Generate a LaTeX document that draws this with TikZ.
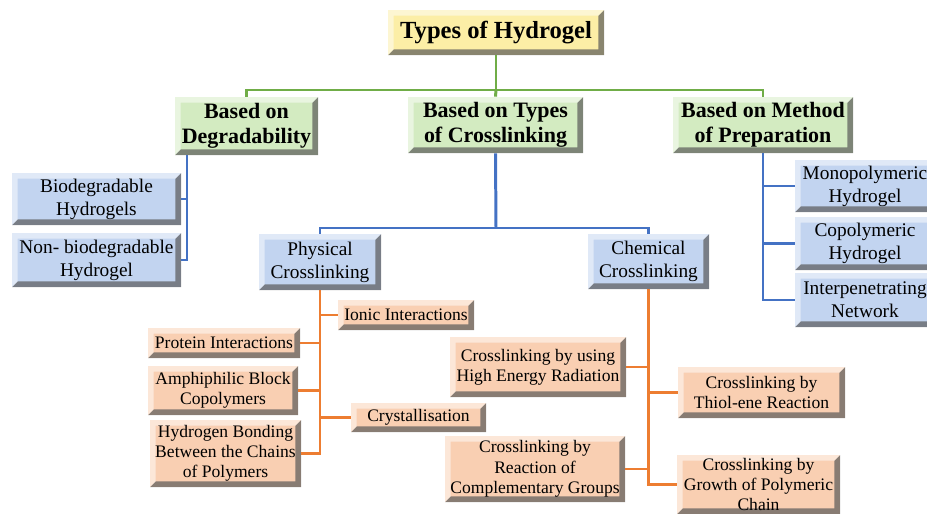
\documentclass[tikz,border=0pt]{standalone}
\usepackage{fontspec}
\setmainfont{Liberation Serif}
\usetikzlibrary{calc}

\definecolor{headfill}{HTML}{FCEEA6}
\definecolor{groupfill}{HTML}{D3EBC1}
\definecolor{kindfill}{HTML}{C2D4F0}
\definecolor{itemfill}{HTML}{F9CFB2}
\definecolor{greenline}{HTML}{70AD47}
\definecolor{blueline}{HTML}{4472C4}
\definecolor{orangeline}{HTML}{ED7D31}

\begin{document}
\begin{tikzpicture}[x=0.02cm, y=-0.02cm,
    box/.style={align=center, inner sep=0pt, path picture={
        \coordinate (bsw) at (path picture bounding box.south west);
        \coordinate (bne) at (path picture bounding box.north east);
        \coordinate (bse) at (path picture bounding box.south east);
        \coordinate (bnw) at (path picture bounding box.north west);
        \fill[black!65, opacity=.7] (bsw) -- (bse) -- (bne) -- ([shift={(-3.2pt,-3.2pt)}]bne)
            -- ([shift={(-3.2pt,3.2pt)}]bse) -- ([shift={(3.2pt,3.2pt)}]bsw) -- cycle;
        \fill[white, opacity=.5] (bsw) -- (bnw) -- (bne) -- ([shift={(-3.2pt,-3.2pt)}]bne)
            -- ([shift={(3.2pt,-3.2pt)}]bnw) -- ([shift={(3.2pt,3.2pt)}]bsw) -- cycle;
    }},
    boxsize/.style 2 args={minimum width=#1*0.02cm, minimum height=#2*0.02cm},
    head/.style={box, fill=headfill, font=\fontsize{14}{16}\selectfont\bfseries},
    group/.style={box, fill=groupfill, font=\fontsize{12.5}{14}\selectfont\bfseries},
    kind/.style={box, fill=kindfill, font=\fontsize{11}{13}\selectfont},
    item/.style={box, fill=itemfill, font=\fontsize{10}{11.5}\selectfont},
    gline/.style={greenline, line width=1.7pt},
    bline/.style={blueline, line width=1.7pt},
    oline/.style={orangeline, line width=1.7pt}]

    \clip (0,0) rectangle (927,514);

    \node[head, boxsize={216}{45}] (title) at (496,32.5) {Types of Hydrogel};

    \node[group, boxsize={143}{58}] (deg) at (246.5,126) {Based on\\Degradability};
    \node[group, boxsize={175}{56}] (cross) at (495.5,125) {Based on Types\\of Crosslinking};
    \node[group, boxsize={180}{56}] (prep) at (763,125) {Based on Method\\of Preparation};

    \node[kind, boxsize={169}{52}] (bio) at (96.5,199) {Biodegradable\\Hydrogels};
    \node[kind, boxsize={169}{54}] (nonbio) at (96.5,260) {Non- biodegradable\\Hydrogel};

    \node[kind, boxsize={140}{52}] (mono) at (865,186) {Monopolymeric\\Hydrogel};
    \node[kind, boxsize={140}{53}] (copo) at (865,243.5) {Copolymeric\\Hydrogel};
    \node[kind, boxsize={140}{54}] (inter) at (865,300) {Interpenetrating\\Network};

    \node[kind, boxsize={122}{56}] (phys) at (320,262) {Physical\\Crosslinking};
    \node[kind, boxsize={121}{55}] (chem) at (648.5,261.5) {Chemical\\Crosslinking};

    \node[item, boxsize={136}{30}] (ionic) at (406,315) {Ionic Interactions};
    \node[item, boxsize={152}{30}] (protein) at (224,343) {Protein Interactions};
    \node[item, boxsize={150}{49}] (amph) at (223,390.5) {Amphiphilic Block\\Copolymers};
    \node[item, boxsize={135}{29}] (cryst) at (418.5,417.5) {Crystallisation};
    \node[item, boxsize={151}{67}] (hbond) at (225.5,453.5) {Hydrogen Bonding\\Between the Chains\\of Polymers};

    \node[item, boxsize={176}{60}] (radi) at (538,367) {Crosslinking by using\\High Energy Radiation};
    \node[item, boxsize={167}{51}] (thiol) at (761.5,392.5) {Crosslinking by\\Thiol-ene Reaction};
    \node[item, boxsize={180}{66}] (compl) at (535,469) {Crosslinking by\\Reaction of\\Complementary Groups};
    \node[item, boxsize={163}{59}] (growth) at (758.5,484.5) {Crosslinking by\\Growth of Polymeric\\Chain};

    \coordinate (gbus) at (496,90);
    \draw[gline] (title.south) -- (gbus);
    \draw[gline] (deg.north) |- (gbus) -| (prep.north);
    \draw[gline] (gbus) -- (cross.north);

    \coordinate (dtop) at (187,155);
    \draw[bline] (dtop) |- (nonbio.east);
    \draw[bline] (dtop |- bio.east) -- (bio.east);

    \draw[bline] (prep.south) |- (inter.west);
    \draw[bline] (prep.south |- mono.west) -- (mono.west);
    \draw[bline] (prep.south |- copo.west) -- (copo.west);

    \coordinate (cbus) at (496,228);
    \draw[bline] (cross.south) -- (cbus);
    \draw[bline] (phys.north) |- (cbus) -| (chem.north);

    \draw[oline] (phys.south) |- (hbond.east);
    \foreach \n in {ionic,cryst}
        \draw[oline] (phys.south |- \n.west) -- (\n.west);
    \foreach \n in {protein,amph}
        \draw[oline] (phys.south |- \n.east) -- (\n.east);

    \draw[oline] (chem.south) |- (growth.west);
    \foreach \n in {radi,compl}
        \draw[oline] (chem.south |- \n.east) -- (\n.east);
    \draw[oline] (chem.south |- thiol.west) -- (thiol.west);

\end{tikzpicture}
\end{document}
